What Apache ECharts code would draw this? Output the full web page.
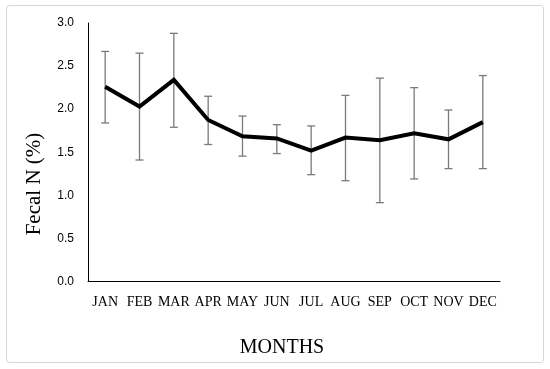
<!DOCTYPE html>
<html><head><meta charset="utf-8">
<script src="https://cdn.jsdelivr.net/npm/echarts@6/dist/echarts.min.js"></script>
<style>html,body{margin:0;padding:0;background:#fff}#c{width:550px;height:369px}</style>
</head><body><div id="c"></div>
<script>
const months = ['JAN','FEB','MAR','APR','MAY','JUN','JUL','AUG','SEP','OCT','NOV','DEC'];
const meanN = [2.26, 2.03, 2.34, 1.875, 1.685, 1.66, 1.52, 1.67, 1.64, 1.72, 1.65, 1.85];
const upperN = [2.67, 2.65, 2.88, 2.15, 1.92, 1.82, 1.805, 2.16, 2.36, 2.25, 1.99, 2.39];
const lowerN = [1.84, 1.41, 1.79, 1.59, 1.455, 1.485, 1.24, 1.17, 0.915, 1.19, 1.31, 1.31];
const yTicks = [0, 0.5, 1.0, 1.5, 2.0, 2.5, 3.0];
const xTitle = 'MONTHS';
const yTitle = 'Fecal N (%)';

const chart = echarts.init(document.getElementById('c'));
const errData = months.map((m, i) => [i, lowerN[i], upperN[i]]);
chart.setOption({
  animation: false,
  graphic: [
    {type:'rect', shape:{x:6.5,y:5.5,width:537,height:357,r:3}, style:{fill:'none', stroke:'#d6d6d6', lineWidth:1}, z:-1},
    {type:'text', x:282, y:348, style:{text:xTitle, fill:'#000', font:'20px "Liberation Serif"', align:'center', verticalAlign:'middle'}},
    {type:'text', x:34, y:184, rotation:Math.PI/2, style:{text:yTitle, fill:'#000', font:'21px "Liberation Serif"', align:'center', verticalAlign:'middle'}}
  ],
  grid: {left: 88, right: 50, top: 23, bottom: 87.5},
  xAxis: {
    type: 'category', data: months, boundaryGap: true,
    axisLine: {lineStyle: {color: '#000', width: 1}},
    axisTick: {show: false},
    axisLabel: {color: '#000', fontFamily: 'Liberation Serif', fontSize: 14, margin: 14, interval: 0}
  },
  yAxis: {
    type: 'value', min: 0, max: 3, interval: 0.5,
    axisLine: {show: true, lineStyle: {color: '#000', width: 1}},
    axisTick: {show: false},
    splitLine: {show: false},
    axisLabel: {color: '#000', fontFamily: 'Liberation Sans', fontSize: 12, margin: 14,
      formatter: v => yTicks.includes(v) ? v.toFixed(1) : ''}
  },
  series: [
    {
      type: 'custom', data: errData, z: 1,
      renderItem: function (params, api) {
        const x = api.value(0);
        const lo = api.coord([x, api.value(1)]);
        const hi = api.coord([x, api.value(2)]);
        const w = 4;
        const st = {stroke: '#7a7a7a', lineWidth: 1.3};
        return {type: 'group', children: [
          {type: 'line', shape: {x1: lo[0], y1: lo[1], x2: hi[0], y2: hi[1]}, style: st},
          {type: 'line', shape: {x1: lo[0]-w, y1: lo[1], x2: lo[0]+w, y2: lo[1]}, style: st},
          {type: 'line', shape: {x1: hi[0]-w, y1: hi[1], x2: hi[0]+w, y2: hi[1]}, style: st}
        ]};
      }
    },
    {
      type: 'line', data: meanN, z: 3,
      symbol: 'none',
      lineStyle: {color: '#000', width: 4, join: 'miter'}
    }
  ]
});
</script></body></html>
